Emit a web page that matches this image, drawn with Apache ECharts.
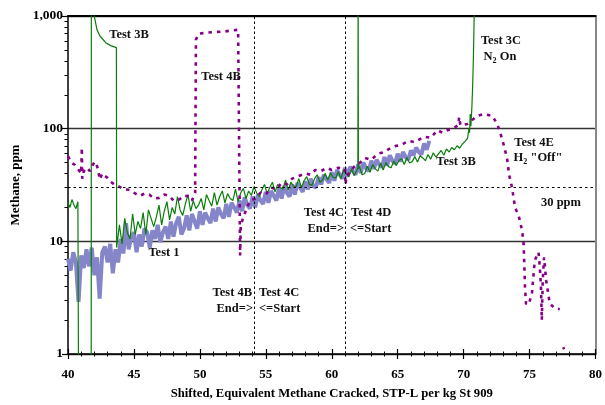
<!DOCTYPE html>
<html><head><meta charset="utf-8">
<script src="https://cdn.jsdelivr.net/npm/echarts@6/dist/echarts.min.js"></script>
<style>html,body{margin:0;padding:0;background:#fff}#c{width:605px;height:405px}</style>
</head><body><div id="c"></div>
<script>
// ---- axis ticks ----
const xTickLabels = ['40','45','50','55','60','65','70','75','80'];
const yTickLabels = ['1','10','100','1,000'];
const yMinorTicks = [2,3,4,5,6,7,8,9,20,30,40,50,60,70,80,90,200,300,400,500,600,700,800,900];

// ---- Test 1 (blue band), sampled every 0.2 from 40.0 ----
const test1Start = 40.0, test1Step = 0.2;
const test1Y = [7,5.5,8,6.5,2.9,7.5,5.8,8.5,6,8.8,5,7.2,3.1,8,9,6.5,9.5,5.2,8.5,6.5,
  10.5,7.8,14.5,8.5,11,12,8,11.5,9,13,12,8.8,12.5,10.5,14,9.8,12,13.5,10.5,15,
  11,14.5,16.5,11.5,13,17,12.5,17.5,15,13,18.5,14,18,16,14.5,19.5,15,20,17.5,16,
  21.5,16.5,22,20,18,23,18.5,24.5,21,19.5,25,20,26,23,21.5,27.5,22,28,25.5,23,
  29.5,24,31,27,25,32,26,33,30,27.5,34,29,36,31,30,37,32,39,35.5,33,
  41,34.5,43,39,36,45,37.5,46,42,39,48,40.5,50,44.5,42,52,44,53,48,45.5,
  56,47,58,52,49,60,51,62,56,53,64,58,68,62,59,74,65,78];

// ---- Test 3 (green) ----
const test3LeadX = [40.0,40.15,40.3,40.45,40.6,40.75,40.8,41.76,41.77,41.98,42.05,42.2,42.41,42.86,43.24,43.67,43.69];
const test3LeadY = [22,20,23.5,21,19.5,22.5,0.5,0.5,2000,1000,923,754,668,580,546,524,8.8];
const test3Start = 43.7, test3Step = 0.2;
const test3Y = [8.8,14,9.5,16,12,10.5,17.5,11.5,15,13,18,11.5,19,16,13.5,16.5,21,14,18.5,22.5,
  15.5,20,17.5,25,19,17,21.5,26,18.5,23,19.5,21,24,19,26,23,20.5,27,21,25,
  28,22,26.5,24,23,29,22.5,27,29.5,24,28,25.5,30.5,27,25,28.5,32,26.5,30,33.5,
  27.5,32,30,29,35,28.5,33.5,31,30.5,36,30,34.5,37.5,32,31.5,36,39,33.5,35,40,
  35,40.5,37,36.5,41.5,36,43,40,37.5,44,38.5,42.5,46,39,40,46.5,41,48,44,42,
  49.5,43,50,46,45,51.5,47,52.5,54,48,55.5,49.5,51,56.5,50.5,57.5,55,52,59,53.5,
  61,56,60,64,58,66,62,68,65,70.5,67,73,77,82];
const test3SpikeX = [61.98,62.0,62.02];
const test3SpikeY = [45,2000,44];
const test3TailX = [70.4,70.45,70.5,70.55,70.62,70.68,70.74,70.8,70.85];
const test3TailY = [100,92,135,105,150,230,420,1000,2000];

// ---- Test 4 (purple dotted) ----
const test4X = [40.0,40.25,40.53,40.75,40.9,41.0,41.05,41.08,41.2,41.45,41.66,41.85,42.03,42.15,42.26,42.41,42.6,42.8,43.01,43.2,
  43.54,43.92,44.2,44.67,45.0,45.42,45.8,46.18,46.5,46.93,47.3,47.68,48.0,48.44,48.8,49.19,49.4,49.64,49.7,49.9,
  50.9,51.9,52.9,53.03,53.05,53.1,53.5,53.8,54.2,54.6,55.0,55.4,55.8,56.2,56.6,57.0,57.5,58.0,58.4,58.75,
  59.2,59.6,60.0,60.5,61.0,61.05,61.1,61.3,61.7,62.0,62.5,63.0,63.5,64.0,64.5,64.8,65.3,65.8,66.3,67.0,
  67.5,68.02,68.4,68.78,69.2,69.6,69.66,69.76,70.28,70.6,71.04,71.54,72.17,72.55,72.8,73.05,73.3,73.45,73.67,73.9,
  74.18,74.43,74.55,74.6,74.65,74.73,74.93,75.18,75.31,75.4,75.68,75.78,75.86,75.93,76.0,76.1,76.26,76.53,76.91,77.29];
const test4Y = [57,50,47.6,44,43,40,68,36,42,45,42,47,51,48,44.5,35.3,40,38,36.5,34,
  31.8,30.4,29,28.7,27,25.3,26.5,26,24,24.3,26,25.3,23,23.5,25.5,25,23,27,617,697,
  718,730,755,750,7.5,14,19,23,24,27,26,30,29,33,32,36,38,40,39,43,
  42,45,43,45,44,31.8,38,40,46,48,55,53,60,62,68,70,72,78,76,85,
  83,97,92,97,100,108,127,107,110,118,130,135,130,110,90,71,54,39,30,20,
  16.8,12.5,9.5,6.3,4,2.8,2.74,3.45,5.2,6.8,8,5.9,4,2.0,4.5,7.2,4.5,2.8,2.55,2.5];
const test4EndX = [77.55,77.62];
const test4EndY = [1.15,1.1];

// ---- reference lines ----
const refPpm = 30;
const testBoundaries = [54.1, 61.05];

function sampled(start, step, ys){ return ys.map((v,i)=>[+(start+i*step).toFixed(3), v]); }
function pairs(xs, ys){ return xs.map((x,i)=>[x, ys[i]]); }

const blueData = sampled(test1Start, test1Step, test1Y);
const greenData = pairs(test3LeadX, test3LeadY)
  .concat(sampled(test3Start, test3Step, test3Y))
  .concat(pairs(test3SpikeX, test3SpikeY))
  .concat(pairs(test3TailX, test3TailY))
  .sort((a,b)=>a[0]-b[0]);
const purpleData = pairs(test4X, test4Y).concat([[77.45, null]]).concat(pairs(test4EndX, test4EndY));

const F = 'Liberation Serif, Times New Roman, serif';
const chart = echarts.init(document.getElementById('c'), null, {renderer:'canvas'});

const txt = (text, x, y, align) => ({
  type:'text', x:x, y:y, z:100,
  style:{text:text, x:0, y:0, fill:'#111', font:'bold 12.5px ' + F, textAlign:align||'center', textVerticalAlign:'middle'}
});
const subTxt = (a, b, x, y) => ({
  type:'text', x:x, y:y, z:100,
  style:{text:'{m|'+a+'}{s|2}{m|'+b+'}', x:0, y:0, textAlign:'center', textVerticalAlign:'middle',
    rich:{m:{font:'bold 12.5px '+F, fill:'#111', lineHeight:15, verticalAlign:'middle'},
          s:{font:'bold 8px '+F, fill:'#111', lineHeight:15, verticalAlign:'bottom', padding:[5,0,0,0]}}}
});

chart.setOption({
  animation:false,
  backgroundColor:'#fff',
  grid:{left:68, right:4, top:16, bottom:43, containLabel:false},
  xAxis:[
    {type:'value', min:40, max:80, interval:5, position:'bottom',
     axisLine:{lineStyle:{color:'#000', width:1.5}},
     axisTick:{show:true, length:5, lineStyle:{color:'#000', width:1.2}},
     minorTick:{show:true, splitNumber:5, length:2.5, lineStyle:{color:'#000', width:1}},
     splitLine:{show:false},
     axisLabel:{margin:14, color:'#000', fontFamily:F, fontWeight:'bold', fontSize:13,
       formatter:(v)=>xTickLabels[Math.round((v-40)/5)]},
     name:'Shifted, Equivalent Methane Cracked, STP-L per kg St 909', nameLocation:'middle', nameGap:33,
     nameTextStyle:{color:'#000', fontFamily:F, fontWeight:'bold', fontSize:12.7}},
    {type:'value', min:40, max:80, interval:5, position:'bottom',
     axisLine:{show:false},
     axisTick:{show:true, inside:true, length:5, lineStyle:{color:'#000', width:1.2}},
     minorTick:{show:true, splitNumber:5, length:2.5, lineStyle:{color:'#000', width:1}},
     axisLabel:{show:false}, splitLine:{show:false}},
    {type:'value', min:40, max:80, position:'top',
     axisLine:{show:true, lineStyle:{color:'#000', width:2}},
     axisTick:{show:false}, axisLabel:{show:false}, splitLine:{show:false}}
  ],
  yAxis:[
    {type:'log', min:1, max:1000, logBase:10, position:'left',
     axisLine:{show:true, lineStyle:{color:'#000', width:1.5}},
     axisTick:{show:true, length:6, lineStyle:{color:'#000', width:1.2}},
     splitLine:{show:true, lineStyle:{color:'#333', width:1.3}},
     axisLabel:{margin:5, color:'#000', fontFamily:F, fontWeight:'bold', fontSize:13.5,
       formatter:(v)=>yTickLabels[Math.round(Math.log10(v))]},
     name:'Methane, ppm', nameLocation:'middle', nameGap:42, nameRotate:90,
     nameTextStyle:{color:'#000', fontFamily:F, fontWeight:'bold', fontSize:13}},
    {type:'value', min:0, max:3, position:'left',
     axisLine:{show:false},
     axisTick:{show:true, length:3.5, customValues:yMinorTicks.map(v=>Math.log10(v)), lineStyle:{color:'#000', width:1}},
     axisLabel:{show:false}, splitLine:{show:false}},
    {type:'value', min:0, max:3, position:'right',
     axisLine:{show:true, lineStyle:{color:'#888', width:2}},
     axisTick:{show:false}, axisLabel:{show:false}, splitLine:{show:false}}
  ],
  series:[
    {name:'Test 1', type:'line', xAxisIndex:0, yAxisIndex:0, data:blueData, showSymbol:false, symbol:'none',
     lineStyle:{color:'#8585ca', width:4}, z:2},
    {name:'Test 3', type:'line', xAxisIndex:0, yAxisIndex:0, data:greenData, showSymbol:false, symbol:'none',
     lineStyle:{color:'#0a7d0a', width:1.2}, z:3},
    {name:'Test 4', type:'line', xAxisIndex:0, yAxisIndex:0, data:purpleData, showSymbol:false, symbol:'none',
     connectNulls:false,
     lineStyle:{color:'#880088', width:2.6, type:[3.5,5]}, z:4,
     markLine:{silent:true, symbol:'none', label:{show:false},
       data:[
         {yAxis:refPpm, lineStyle:{color:'#000', width:1, type:[2.5,3]}},
         {xAxis:testBoundaries[0], lineStyle:{color:'#000', width:1, type:[2.5,2.5]}},
         {xAxis:testBoundaries[1], lineStyle:{color:'#000', width:1, type:[2.5,2.5]}}
       ]}}
  ],
  graphic:[
    txt('Test 3B', 129, 35),
    txt('Test 4B', 221, 77),
    txt('Test 3C', 501, 41),
    subTxt('N', ' On', 500, 57),
    txt('Test 4E', 534, 143),
    subTxt('H', ' "Off"', 538, 158),
    txt('Test 3B', 456, 162),
    txt('30 ppm', 561, 203),
    txt('Test 4C', 344, 213, 'right'),
    txt('Test 4D', 351, 213, 'left'),
    txt('End=>', 344, 229, 'right'),
    txt('<=Start', 350, 229, 'left'),
    txt('Test 4B', 252, 293, 'right'),
    txt('Test 4C', 259, 293, 'left'),
    txt('End=>', 253, 309, 'right'),
    txt('<=Start', 259, 309, 'left'),
    txt('Test 1', 164, 253)
  ]
});
</script></body></html>
